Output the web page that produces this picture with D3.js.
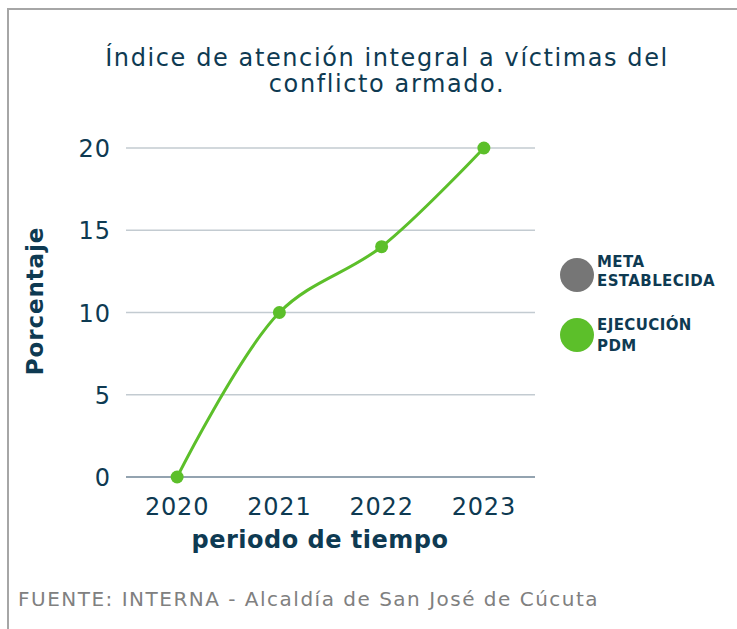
<!DOCTYPE html>
<meta charset="utf-8">
<head>
  <title>indice_victimas</title>
</head>
<style>
body { margin: 0; background: #fff; }
svg text { font-family: "DejaVu Sans", "Noto Sans", sans-serif; fill: #0e3a52; }
</style>
<body>
<svg id="chart" width="737" height="629"></svg>
<script src="https://cdn.jsdelivr.net/npm/d3@7"></script>
<script>
// datos del grafico
var years = ["2020", "2021", "2022", "2023"];
var ejecucion = [0, 10, 14, 20];
var yTicks = [0, 5, 10, 15, 20];
var legendLabels = [["META", "ESTABLECIDA"], ["EJECUCIÓN", "PDM"]];
var legendColors = ["#767676", "#5cbf2a"];

var svg = d3.select("#chart");

// marco gris
svg.append("path")
  .attr("d", "M8,629 L8,9 L737,9")
  .attr("fill", "none")
  .attr("stroke", "#a6a6a6")
  .attr("stroke-width", 2);

var margin = {left: 126, right: 202, top: 148, bottom: 152};
var width = 737, height = 629;

var x = d3.scaleBand().domain(years).range([margin.left, width - margin.right]);
var y = d3.scaleLinear().domain([0, 20]).range([height - margin.bottom, margin.top]);

// lineas de cuadricula
svg.append("g").selectAll("line")
  .data(yTicks)
  .enter().append("line")
  .attr("x1", margin.left).attr("x2", width - margin.right)
  .attr("y1", function(d){ return y(d); })
  .attr("y2", function(d){ return y(d); })
  .attr("stroke", function(d){ return d === 0 ? "#6f8596" : "#c3cbd1"; })
  .attr("stroke-width", 1.3);

// eje y
var yAxis = svg.append("g")
  .attr("transform", "translate(" + margin.left + ",0)")
  .call(d3.axisLeft(y).tickValues(yTicks).tickSize(0).tickPadding(15));
yAxis.select(".domain").remove();
yAxis.selectAll("text").style("font-size", "24px").style("letter-spacing", "1px").attr("dy", "0.36em");

// eje x
var xAxis = svg.append("g")
  .attr("transform", "translate(0," + (height - margin.bottom) + ")")
  .call(d3.axisBottom(x).tickSize(0).tickPadding(21));
xAxis.select(".domain").remove();
xAxis.selectAll("text").style("font-size", "24px").style("letter-spacing", "0.8px");

// titulos
var titleLines = ["Índice de atención integral a víctimas del", "conflicto armado."];
svg.append("g").selectAll("text")
  .data(titleLines)
  .enter().append("text")
  .attr("x", 387)
  .attr("y", function(d, i){ return 66 + i * 26; })
  .attr("text-anchor", "middle")
  .style("font-size", "24px")
  .style("letter-spacing", "1.6px")
  .text(function(d){ return d; });

svg.append("text")
  .attr("transform", "translate(43,301) rotate(-90)")
  .attr("text-anchor", "middle")
  .style("font-size", "23px")
  .style("font-weight", "bold")
  .style("letter-spacing", "0.9px")
  .text("Porcentaje");

svg.append("text")
  .attr("x", 320).attr("y", 548)
  .attr("text-anchor", "middle")
  .style("font-size", "24px")
  .style("font-weight", "bold")
  .style("letter-spacing", "0.5px")
  .text("periodo de tiempo");

// linea de ejecucion
var line = d3.line()
  .x(function(d, i){ return x(years[i]) + x.bandwidth() / 2; })
  .y(function(d){ return y(d); })
  .curve(d3.curveCatmullRom.alpha(0.5));

svg.append("path")
  .datum(ejecucion)
  .attr("d", line)
  .attr("fill", "none")
  .attr("stroke", "#5cbf2a")
  .attr("stroke-width", 3);

svg.append("g").selectAll("circle")
  .data(ejecucion)
  .enter().append("circle")
  .attr("cx", function(d, i){ return x(years[i]) + x.bandwidth() / 2; })
  .attr("cy", function(d){ return y(d); })
  .attr("r", 6.5)
  .attr("fill", "#5cbf2a");

// leyenda
var legend = svg.append("g").selectAll("g")
  .data(legendLabels)
  .enter().append("g")
  .attr("transform", function(d, i){ return "translate(577," + (275 + i * 60) + ")"; });
legend.append("circle")
  .attr("r", 17)
  .attr("fill", function(d, i){ return legendColors[i]; });
legend.each(function(d, i){
  var g = d3.select(this);
  d.forEach(function(s, j){
    g.append("text")
      .attr("x", 20).attr("y", (i === 0 ? -8 : -5) + j * (i === 0 ? 19 : 21))
      .style("font-size", "15px")
      .style("font-weight", "bold")
      .style("letter-spacing", "0.4px")
      .text(s);
  });
});

// fuente
svg.append("text")
  .attr("x", 18).attr("y", 606)
  .style("font-size", "20px")
  .style("letter-spacing", "1.5px")
  .style("fill", "#808080")
  .text("FUENTE: INTERNA - Alcaldía de San José de Cúcuta");
</script>
</body>
